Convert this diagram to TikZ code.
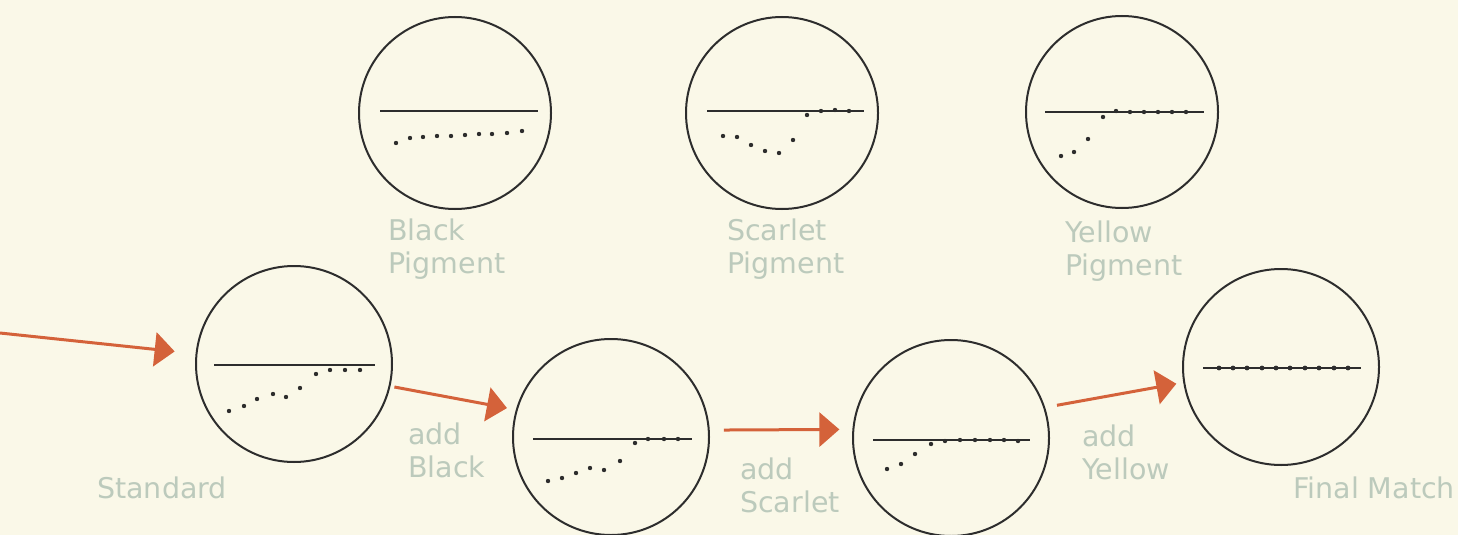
\documentclass[tikz,border=0pt]{standalone}
\usepackage{fontspec}
\setmainfont{DejaVu Sans}
\usetikzlibrary{arrows.meta}
\definecolor{bg}{RGB}{250,248,232}
\definecolor{lbl}{RGB}{188,202,188}
\definecolor{arrc}{RGB}{212,98,58}
\definecolor{ink}{RGB}{45,45,45}
\begin{document}
\begin{tikzpicture}[x=1pt,y=-1pt,
  lens/.style={circle,draw=ink,line width=2pt,minimum size=196pt,inner sep=0pt},
  toplens/.style={lens,minimum size=192pt},
  hair/.style={draw=ink,line width=1.1pt},
  dotc/.style={fill=ink},
  lab/.style={text=lbl,font=\fontsize{28.5}{33}\selectfont,align=left,anchor=west,inner sep=0pt},
  flow/.style={draw=arrc,line width=3pt,-{Triangle[length=20pt,width=34pt]}}]
\fill[bg] (0,0) rectangle (1458,535);
\useasboundingbox (0,0) rectangle (1458,535);
% lenses
\node[toplens] (bp) at (455,113) {};
\node[toplens] (sp) at (782,113) {};
\node[toplens] (yp) at (1122,112) {};
\node[lens] (std) at (294,364) {};
\node[lens] (ab) at (611,437) {};
\node[lens] (as) at (951,438) {};
\node[lens] (fm) at (1281,367) {};
% reference lines
\draw[hair] (380,111) -- (538,111);
\draw[hair] (707,111) -- (864,111);
\draw[hair] (1045,112) -- (1204,112);
\draw[hair] (214,365) -- (375,365);
\draw[hair] (533,439) -- (692,439);
\draw[hair] (873,440) -- (1030,440);
\draw[hair] (1203,368) -- (1361,368);
% dots
\foreach \p in {(396,143),(410,138),(423,137),(437,136),(451,136),(465,135),(479,134),(492,134),(507,133),(522,131)}
  \fill[dotc] \p circle[radius=2.2pt];
\foreach \p in {(723,136),(737,137),(751,145),(765,151),(779,153),(793,140),(807,115),(821,111),(835,110),(849,111)}
  \fill[dotc] \p circle[radius=2.2pt];
\foreach \p in {(1061,156),(1074,152),(1088,139),(1103,117),(1116,111),(1130,112),(1144,112),(1158,112),(1172,112),(1186,112)}
  \fill[dotc] \p circle[radius=2.2pt];
\foreach \p in {(229,411),(244,406),(257,399),(273,394),(286,397),(300,388),(316,374),(330,370),(345,370),(360,370)}
  \fill[dotc] \p circle[radius=2.2pt];
\foreach \p in {(548,481),(562,478),(576,473),(590,468),(604,470),(620,461),(635,443),(648,439),(664,439),(678,439)}
  \fill[dotc] \p circle[radius=2.2pt];
\foreach \p in {(887,469),(901,464),(915,454),(931,444),(945,441),(960,440),(975,440),(990,440),(1004,440),(1018,441)}
  \fill[dotc] \p circle[radius=2.2pt];
\foreach \x in {1219,1233,1247,1262,1276,1290,1305,1319,1334,1348}
  \fill[dotc] (\x,368) circle[radius=2.4pt];
% labels
\node[lab] (lbp) at (388,249) {Black\\Pigment};
\node[lab] (lsp) at (727,249) {Scarlet\\Pigment};
\node[lab] (lyp) at (1065,251) {Yellow\\Pigment};
\node[lab] (lstd) at (97,488) {Standard};
\node[lab] (lab1) at (408,450) {add\\Black};
\node[lab] (las) at (740,485) {add\\Scarlet};
\node[lab] (lay) at (1082,452) {add\\Yellow};
\node[lab] (lfm) at (1293,488) {Final Match};
% arrows
\coordinate (start) at (0,333);
\draw[flow,shorten >=21pt] (start) -- (std.174);
\draw[flow,shorten <=4pt,shorten >=9pt] (std.-13) -- (ab.164);
\draw[flow,shorten <=14pt,shorten >=13pt] (ab.4) -- (as.175);
\draw[flow,shorten <=12pt,shorten >=7pt] (as.18) -- (fm.189);
\end{tikzpicture}
\end{document}
